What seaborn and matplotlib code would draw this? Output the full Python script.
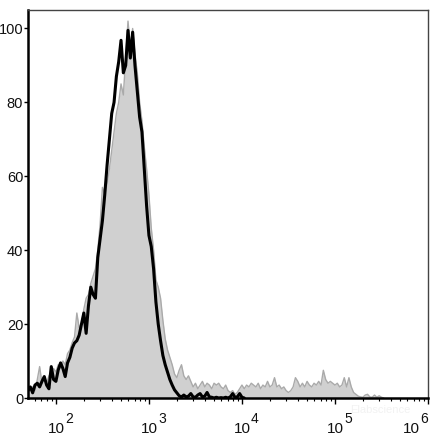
import numpy as np
import pandas as pd
import matplotlib
matplotlib.use("Agg")
import matplotlib.pyplot as plt
import seaborn as sns
from matplotlib.ticker import LogLocator, NullFormatter

# ---- data (histogram counts, normalised to mode = 100) ----
# channels are on a log10 fluorescence grid starting at 10^1.70, step 0.025 decades
log_start = 1.70
log_step = 0.025

black_counts = [2, 3, 1.4, 3.5, 4, 3, 4.5, 5.8, 3.5, 2.5,
                8.5, 5, 4.5, 7.6, 9.5, 8, 5.8, 9.5, 11, 13.5,
                14.9, 15.5, 17, 20, 23, 17.5, 25, 30, 28, 27,
                38, 43, 48, 55, 63, 70, 77, 80, 87, 91,
                96.8, 88, 90, 99.5, 92, 99, 90, 83, 76, 72,
                62, 52, 44, 41, 35, 26, 20, 15.5, 11.5, 9,
                7, 5, 3.5, 2.2, 1.4, 0.6, 0.3, 0.8, 0.3, 0.5,
                1.2, 0.3, 0.2, 0.8, 1.2, 0.3, 0.5, 1.5, 0.3, 0.2,
                0, 0.2, 0, 0.1, 0, 0.2, 0, 0.3, 1.2, 0.2,
                0.3, 1.2, 0.2, 0]

gray_counts = [1.5, 2.5, 3, 2, 5, 8.5, 4, 5, 4, 6,
               7, 8, 7, 9, 8, 10, 9, 12, 13, 15,
               16.5, 23, 19, 20, 24, 27, 28, 31, 33, 35,
               40, 47, 57, 55, 58, 62, 67, 72, 77, 80,
               85, 82, 92, 102, 95, 100, 93, 88, 80, 75,
               68, 62, 55, 46, 40, 32, 30, 27, 21, 16,
               13, 11, 9, 6.5, 5.5, 7.5, 9, 6, 5, 6,
               4.5, 3, 4, 2.5, 3.5, 4.5, 3, 4, 3.5, 2.5,
               4, 3.5, 4, 3, 2.5, 3.5, 2, 1.5, 2, 1,
               1.5, 2.5, 3.5, 2.5, 3.5, 3, 4, 3.5, 3, 4,
               2.5, 3.5, 3, 4.5, 3, 3.5, 5.5, 3, 3.5, 2.5,
               3, 2, 1.5, 2, 3, 5.5, 4.5, 3, 4, 3,
               4.5, 3.5, 3, 4, 3.5, 4.5, 3.5, 7.5, 5, 4,
               4.5, 4, 3.5, 4, 3, 3.5, 5.5, 3, 5.5, 3,
               1.5, 1, 0.5, 0.3, 0.2, 0.8, 1, 0.3, 0.2, 0.8,
               0.2, 0.6, 0.2, 0]

y_ticks = [0, 20, 40, 60, 80, 100]
x_decades = [2, 3, 4, 5, 6]

# ---- build frames ----
black_df = pd.DataFrame({
    "fl": 10 ** (log_start + log_step * np.arange(len(black_counts))),
    "count": black_counts})
gray_df = pd.DataFrame({
    "fl": 10 ** (log_start + log_step * np.arange(len(gray_counts))),
    "count": gray_counts})

sns.set_theme(style="white")
plt.rcParams["font.family"] = ["Liberation Sans", "DejaVu Sans"]

fig = plt.figure(figsize=(4.38, 4.38), dpi=100)
ax = fig.add_axes([28 / 438, 1 - 398 / 438, 400 / 438, 388 / 438])

ax.fill_between(gray_df["fl"], gray_df["count"], 0, color="#d0d0d0", lw=0, zorder=1)
sns.lineplot(data=gray_df, x="fl", y="count", ax=ax, color="#aaaaaa", lw=1.0, zorder=2)
sns.lineplot(data=black_df, x="fl", y="count", ax=ax, color="black", lw=2.2, zorder=3)

ax.set_xscale("log")
ax.set_xlim(10 ** 1.70, 10 ** 6)
ax.set_ylim(0, 105)
ax.set_xlabel("")
ax.set_ylabel("")

ax.set_yticks(y_ticks)
ax.set_yticklabels([str(v) for v in y_ticks], fontsize=10.5, color="#111111")
ax.tick_params(axis="y", direction="out", length=3, width=1, pad=0.5, color="black", left=True)

ax.xaxis.set_major_locator(LogLocator(base=10, numticks=10))
ax.xaxis.set_minor_locator(LogLocator(base=10, subs=np.arange(2, 10), numticks=20))
ax.xaxis.set_major_formatter(NullFormatter())
ax.xaxis.set_minor_formatter(NullFormatter())
ax.tick_params(axis="x", which="major", direction="out", length=4, width=1, color="black", bottom=True)
ax.tick_params(axis="x", which="minor", direction="out", length=2, width=0.8, color="black", bottom=True)

for d in x_decades:
    shift = -17 if d == 6 else 0
    ax.annotate("10", xy=(10 ** d, 0), xycoords=("data", "axes fraction"),
                xytext=(shift * 0.72, -35 * 0.72), textcoords="offset points",
                ha="center", va="baseline", fontsize=11, color="#111111")
    ax.annotate(str(d), xy=(10 ** d, 0), xycoords=("data", "axes fraction"),
                xytext=((shift + 9) * 0.72, -25 * 0.72), textcoords="offset points",
                ha="left", va="baseline", fontsize=10, color="#111111")

for side in ["left", "bottom"]:
    ax.spines[side].set_color("black")
    ax.spines[side].set_linewidth(1.8)
for side in ["top", "right"]:
    ax.spines[side].set_color("#444444")
    ax.spines[side].set_linewidth(1.0)
ax.grid(False)

fig.text(380 / 438, 1 - 410 / 438, "Elabscience", fontsize=8, color="#f2f2f2",
         ha="center", va="center")

fig.savefig("out.png", dpi=100)
